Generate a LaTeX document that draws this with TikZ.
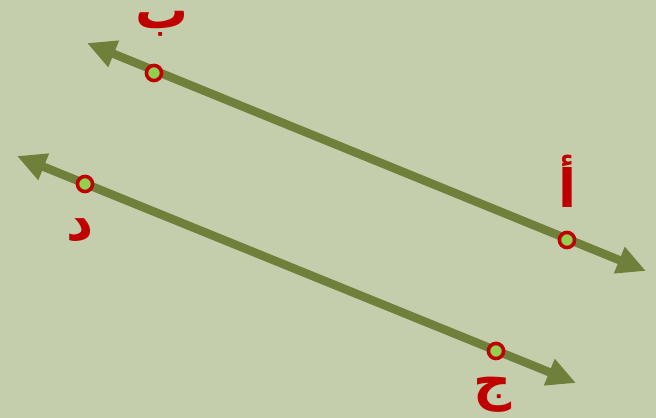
\documentclass[tikz,border=0pt]{standalone}
\usepackage{fontspec}
\newfontfamily\arabicfont[Script=Arabic]{DejaVu Sans}
\TeXXeTstate=1
\usetikzlibrary{arrows.meta}
\definecolor{bgcol}{RGB}{196,206,172}
\definecolor{linecol}{RGB}{110,128,58}
\definecolor{ptred}{RGB}{192,0,0}
\definecolor{ptfill}{RGB}{146,208,80}
\begin{document}
\begin{tikzpicture}[x=0.01cm,y=-0.01cm,
  pt/.style={circle,draw=ptred,fill=ptfill,line width=1pt,minimum size=4.3pt,inner sep=0pt},
  lbl/.style={text=ptred,font=\arabicfont\bfseries\fontsize{15}{17}\selectfont,inner sep=0pt},
  ray/.style={draw=linecol,line width=2.4pt,{Triangle[length=8.2pt,width=7.6pt]}-{Triangle[length=8.2pt,width=7.6pt]}}]
\fill[bgcol] (0,0) rectangle (656,418);
\useasboundingbox (0,0) rectangle (656,418);
\coordinate (l1) at (87,43);
\coordinate (r1) at (646,271);
\coordinate (l2) at (17,156);
\coordinate (r2) at (576,383);
\path[ray] (l1) -- (r1);
\path[ray] (l2) -- (r2);
\node[pt] (b) at (154,73) {};
\node[pt] (a) at (567,240) {};
\node[pt] (d) at (85,184) {};
\node[pt] (j) at (496,351) {};
\node[lbl] (lb) at (162,24) {\beginR ب\endR};
\node[lbl] (la) at (568,181) {\beginR أ\endR};
\node[lbl] (ld) at (80,230) {\beginR د\endR};
\node[lbl] (lj) at (493,395) {\beginR ج\endR};
\end{tikzpicture}
\end{document}
